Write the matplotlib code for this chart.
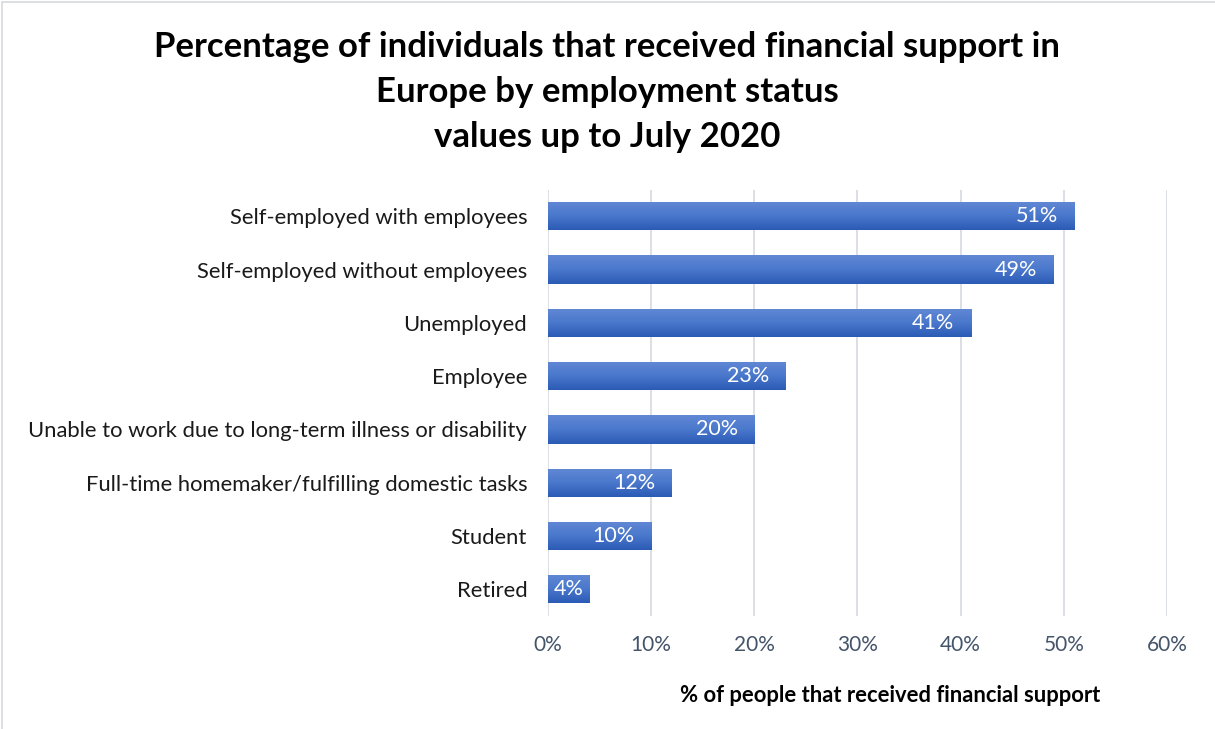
import numpy as np
import matplotlib
matplotlib.use("Agg")
import matplotlib.pyplot as plt
from matplotlib.colors import LinearSegmentedColormap
from matplotlib.ticker import FuncFormatter

categories = [
    "Self-employed with employees",
    "Self-employed without employees",
    "Unemployed",
    "Employee",
    "Unable to work due to long-term illness or disability",
    "Full-time homemaker/fulfilling domestic tasks",
    "Student",
    "Retired",
]
values = [51, 49, 41, 23, 20, 12, 10, 4]
x_ticks = [0, 10, 20, 30, 40, 50, 60]

title = ("Percentage of individuals that received financial support in\n"
         "Europe by employment status\nvalues up to July 2020")
x_label = "% of people that received financial support"

plt.rcParams["font.family"] = ["Lato", "DejaVu Sans"]

fig = plt.figure(figsize=(12.15, 7.29), dpi=100)
ax = fig.add_axes([0.451, 0.155, 0.5095, 0.585])

y = np.arange(len(categories))
bars = ax.barh(y, values, height=0.53, color="#4472C4", zorder=2)

# vertical gradient fill for each bar: lighter on top, darker at the bottom
grad_cmap = LinearSegmentedColormap.from_list("bar", ["#6188D4", "#4A78CC", "#2C5BB6"])
grad = np.linspace(0, 1, 64).reshape(-1, 1)
for b in bars:
    x0, y0 = b.get_x(), b.get_y()
    w, h = b.get_width(), b.get_height()
    im = ax.imshow(grad, cmap=grad_cmap, aspect="auto",
                   extent=(x0, x0 + w, y0 + h, y0), origin="upper", zorder=3)
    im.set_clip_path(b)
    b.set_alpha(0)

for yi, v in zip(y, values):
    if v >= 8:
        ax.text(v - 1.6, yi, f"{v}%", ha="right", va="center",
                color="white", fontsize=15.5, zorder=4)
    else:
        ax.text(v / 2, yi, f"{v}%", ha="center", va="center",
                color="white", fontsize=15.5, zorder=4)

ax.set_xlim(0, 60)
ax.set_ylim(len(categories) - 0.5, -0.5)
ax.set_xticks(x_ticks)
ax.xaxis.set_major_formatter(FuncFormatter(lambda v, p: f"{v:.0f}%"))
ax.set_yticks(y)
ax.set_yticklabels(categories)
ax.tick_params(axis="y", length=0, pad=15, labelsize=15.8, labelcolor="#1a1a1a")
ax.tick_params(axis="x", length=0, pad=14, labelsize=15, labelcolor="#44546A")
ax.grid(axis="x", color="#D9DDE3", linewidth=1.3, zorder=0)
ax.set_axisbelow(True)
for s in ax.spines.values():
    s.set_visible(False)

fig.text(0.5, 0.957, title, ha="center", va="top", fontsize=25,
         fontweight="bold", linespacing=1.5)
fig.text(890 / 1215, 1 - 695 / 729, x_label, ha="center", va="center",
         fontsize=15.8, fontweight="bold")

# light frame around the chart area
fig.add_artist(plt.Rectangle((0.002, -0.01), 1.2, 1.0075, transform=fig.transFigure,
                             fill=False, edgecolor="#D9DDE3", linewidth=1.3))

fig.savefig("out.png", dpi=100)
